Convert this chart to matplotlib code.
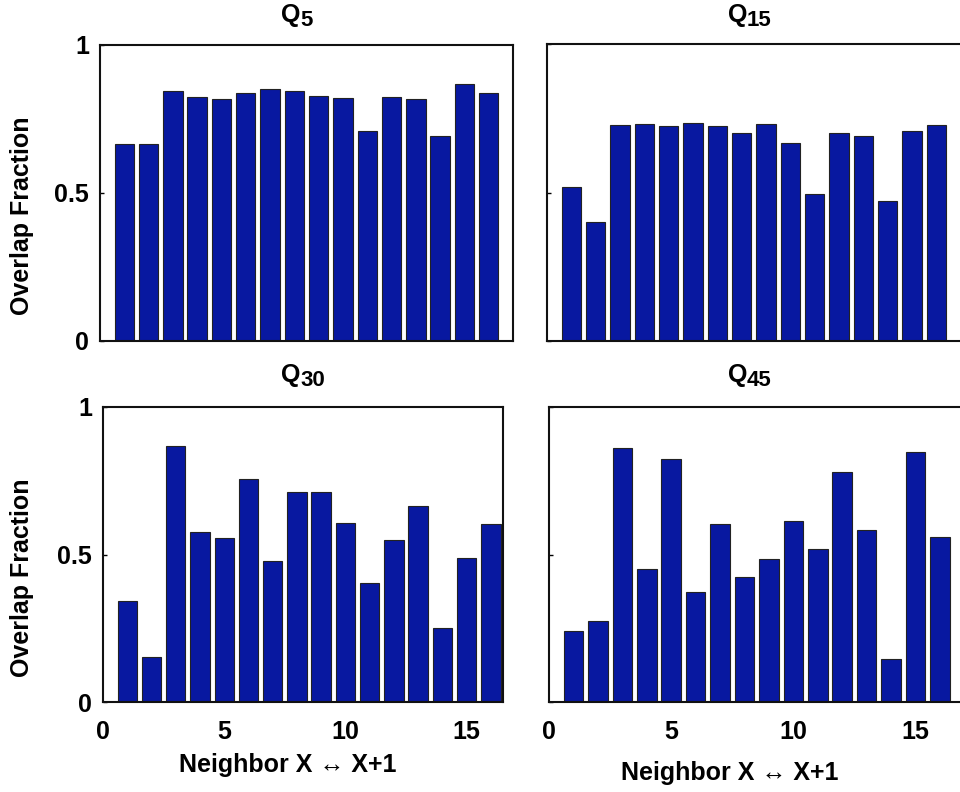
import matplotlib
matplotlib.use("Agg")
import matplotlib.pyplot as plt
import numpy as np

plt.rcParams['font.family'] = ['Liberation Sans', 'DejaVu Sans']
plt.rcParams['font.weight'] = 'bold'

neighbors = list(range(1, 17))
q5 = [0.664, 0.664, 0.844, 0.823, 0.816, 0.837, 0.850, 0.843,
      0.828, 0.820, 0.711, 0.823, 0.816, 0.692, 0.868, 0.837]
q15 = [0.517, 0.400, 0.728, 0.731, 0.723, 0.733, 0.723, 0.700,
       0.731, 0.667, 0.496, 0.699, 0.690, 0.471, 0.706, 0.728]
q30 = [0.342, 0.153, 0.869, 0.576, 0.556, 0.755, 0.479, 0.713,
       0.713, 0.606, 0.403, 0.550, 0.666, 0.250, 0.489, 0.605]
q45 = [0.242, 0.276, 0.861, 0.450, 0.824, 0.373, 0.603, 0.424,
       0.486, 0.612, 0.520, 0.779, 0.584, 0.145, 0.847, 0.558]

titles = ['5', '15', '30', '45']
series = [q5, q15, q30, q45]
xticks = [0, 5, 10, 15]
yticks = [0, 0.5, 1]
ytick_labels = ['0', '0.5', '1']

W, H = 960, 792
fig = plt.figure(figsize=(9.6, 7.92), dpi=100)

# axes boxes in pixels: left, right, top, bottom
boxes = [(100, 513, 45, 341), (547, 962, 44, 341),
         (103, 503, 407, 702), (549, 962, 407, 702)]
xlims = [(0, 17), (0, 17.05), (0, 16.5), (0, 16.9)]

bar_color = '#0818A0'
for i, (vals, t, box, xl) in enumerate(zip(series, titles, boxes, xlims)):
    l, r, tp, b = box
    ax = fig.add_axes([l / W, 1 - b / H, (r - l) / W, (b - tp) / H])
    ax.bar(neighbors, vals, width=0.8, color=bar_color, edgecolor='#222222',
           linewidth=0.8)
    ax.set_xlim(*xl)
    ax.set_ylim(0, 1)
    ax.set_yticks(yticks)
    for s in ax.spines.values():
        s.set_linewidth(1.5)
        s.set_color('#111111')
    ax.tick_params(axis='y', direction='in', length=3, width=1, pad=8,
                   labelsize=18)
    ax.tick_params(axis='x', direction='in', length=0, pad=13, labelsize=18)
    if i % 2 == 0:
        ax.set_yticklabels(ytick_labels, fontweight='bold')
        cy = (tp + b) / 2 + 23
        fig.text(22 / W, 1 - cy / H, 'Overlap Fraction', rotation=90,
                 ha='center', va='center', fontsize=18, fontweight='bold')
    else:
        ax.set_yticklabels([])
    if i >= 2:
        ax.set_xticks(xticks)
        ax.set_xticklabels([str(v) for v in xticks], fontweight='bold')
        lx, ly = (288, 765) if i == 2 else (730, 773)
        fig.text(lx / W, 1 - ly / H, 'Neighbor X \u2194 X+1', ha='center',
                 va='center', fontsize=18, fontweight='bold')
    else:
        ax.set_xticks([])
    cx = 300 if i % 2 == 0 else 747
    ty = 15 if i < 2 else 375
    fig.text(cx / W, 1 - ty / H, 'Q', ha='right', va='center',
             fontsize=18, fontweight='bold')
    fig.text(cx / W, 1 - (ty + 5) / H, t, ha='left', va='center',
             fontsize=16, fontweight='bold')

fig.savefig('out.png', dpi=100)
